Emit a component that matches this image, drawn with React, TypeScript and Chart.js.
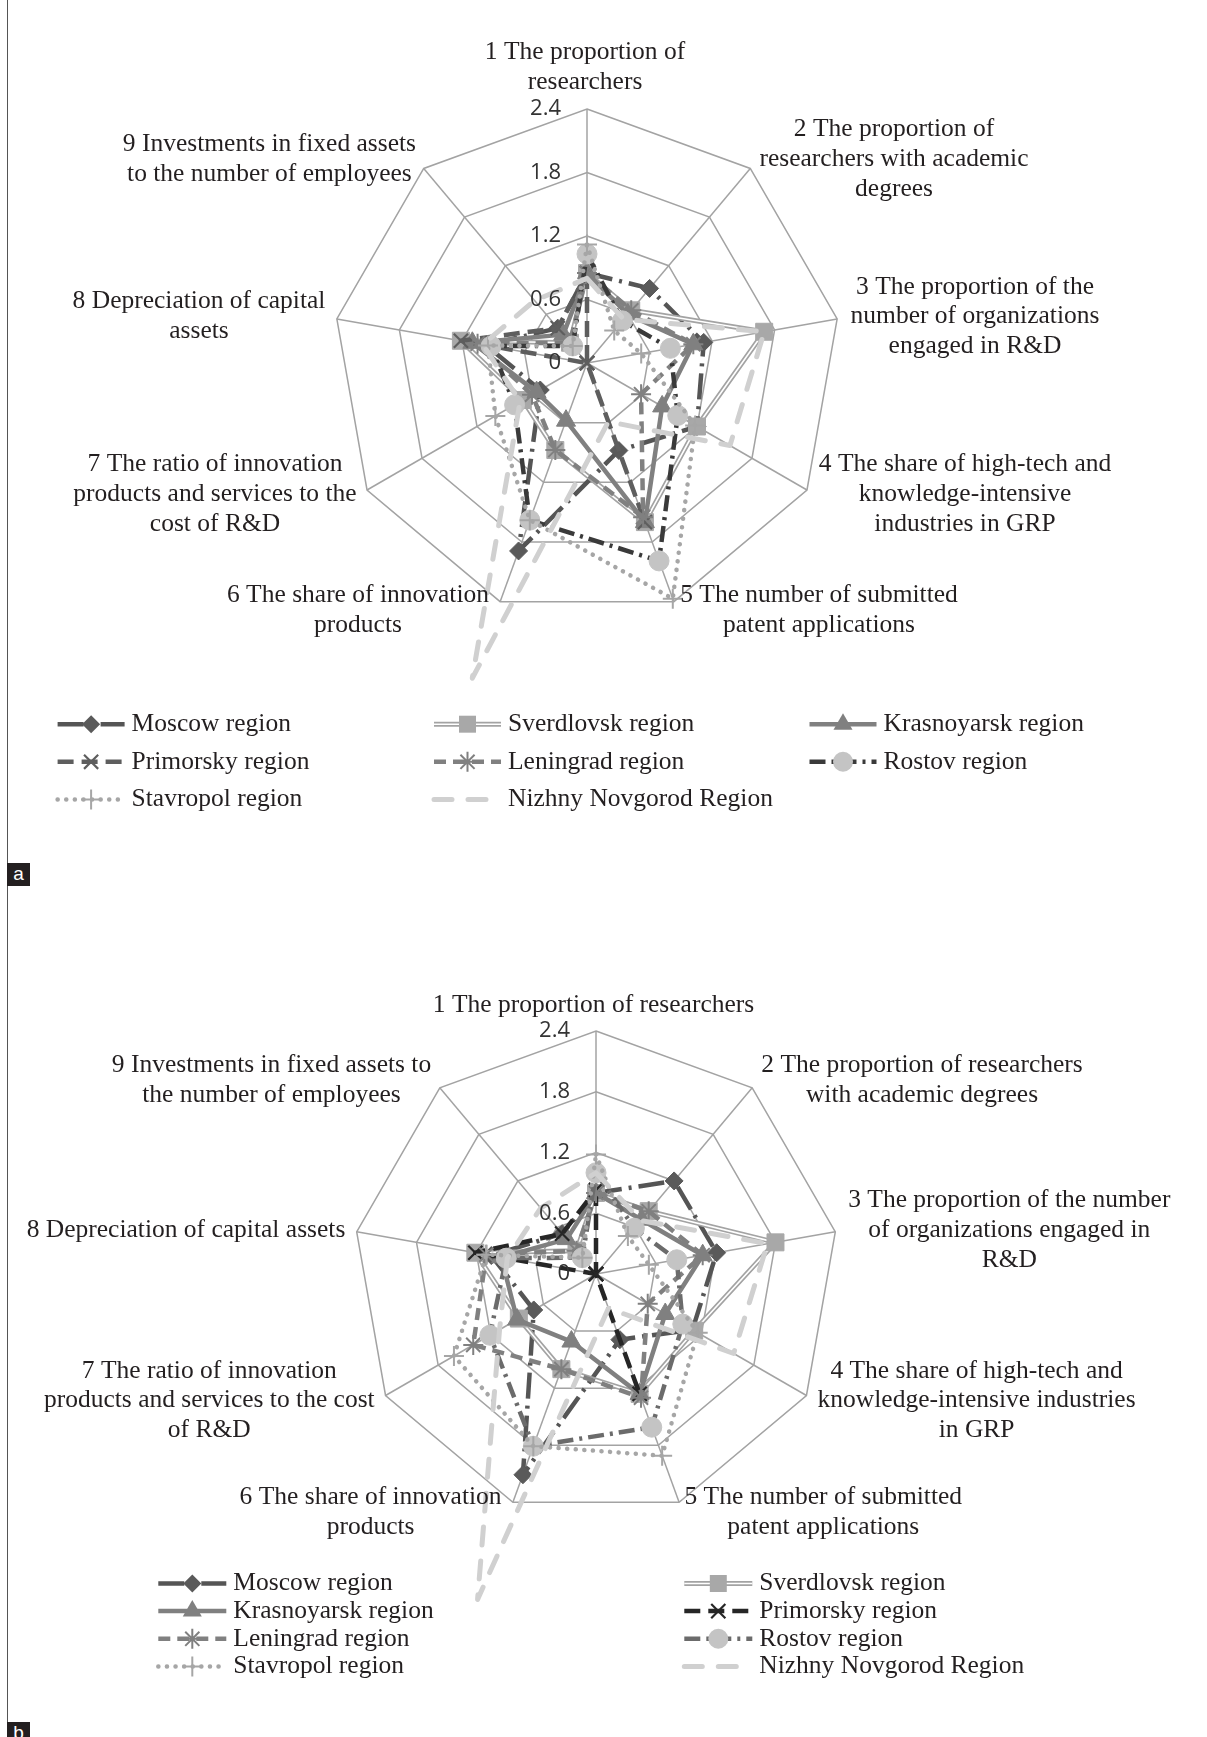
import React, { useEffect, useRef } from 'react';
import { Chart, registerables } from 'chart.js';

Chart.register(...registerables);

// ---------------- data ----------------
const SERIES_NAMES = [
  'Moscow region',
  'Sverdlovsk region',
  'Krasnoyarsk region',
  'Primorsky region',
  'Leningrad region',
  'Rostov region',
  'Stavropol region',
  'Nizhny Novgorod Region',
];

const AXIS_LABELS_A: string[][] = [
  ['1 The proportion of', 'researchers'],
  ['2 The proportion of', 'researchers with academic', 'degrees'],
  ['3 The proportion of the', 'number of organizations', 'engaged in R&D'],
  ['4 The share of high-tech and', 'knowledge-intensive', 'industries in GRP'],
  ['5 The number of submitted', 'patent applications'],
  ['6 The share of innovation', 'products'],
  ['7 The ratio of innovation', 'products and services to the', 'cost of R&D'],
  ['8 Depreciation of capital', 'assets'],
  ['9 Investments in fixed assets', 'to the number of employees'],
];

const AXIS_LABELS_B: string[][] = [
  ['1 The proportion of researchers'],
  ['2 The proportion of researchers', 'with academic degrees'],
  ['3 The proportion of the number', 'of organizations engaged in', 'R&D'],
  ['4 The share of high-tech and', 'knowledge-intensive industries', 'in GRP'],
  ['5 The number of submitted', 'patent applications'],
  ['6 The share of innovation', 'products'],
  ['7 The ratio of innovation', 'products and services to the cost', 'of R&D'],
  ['8 Depreciation of capital assets'],
  ['9 Investments in fixed assets to', 'the number of employees'],
];

const TICK_VALUES = [0, 0.6, 1.2, 1.8, 2.4];
const TICK_LABELS = ['0', '0.6', '1.2', '1.8', '2.4'];

// panel a
const MOSCOW_A = [0.85, 0.92, 1.12, 1.2, 0.88, 1.89, 0.51, 0.97, 0.43];
const SVERDLOVSK_A = [0.85, 0.65, 1.7, 1.2, 1.6, 0.875, 0.7, 1.21, 0.25];
const KRASNOYARSK_A = [0.85, 0.6, 1.02, 0.82, 1.6, 0.58, 0.55, 1.1, 0.35];
const PRIMORSKY_A = [0.85, 0, 0, 0, 1.6, 0, 0, 1.21, 0.43];
const LENINGRAD_A = [0.85, 0.65, 1.02, 0.59, 1.55, 0.875, 0.6, 1.05, 0.25];
const ROSTOV_A = [1.03, 0.52, 0.8, 0.99, 1.99, 1.58, 0.79, 0.92, 0.21];
const STAVROPOL_A = [1.12, 0.4, 0.52, 1.18, 2.37, 1.58, 1.0, 0.95, 0.21];
const NIZHNY_A = [0.8, 0.54, 1.7, 1.56, 0.59, 3.17, 0.73, 1.0, 0.77];

// panel b
const MOSCOW_B = [0.8, 1.2, 1.21, 1.1, 0.69, 2.11, 0.71, 1.05, 0.52];
const SVERDLOVSK_B = [0.8, 0.81, 1.8, 1.12, 1.26, 1.0, 0.88, 1.21, 0.3];
const KRASNOYARSK_B = [0.8, 0.7, 1.07, 0.79, 1.26, 0.71, 0.9, 0.95, 0.45];
const PRIMORSKY_B = [0.83, 0, 0, 0, 1.26, 0, 0, 1.21, 0.52];
const LENINGRAD_B = [0.8, 0.81, 1.07, 0.59, 1.3, 1.0, 1.4, 1.1, 0.3];
const ROSTOV_B = [1.0, 0.59, 0.81, 0.99, 1.61, 1.81, 1.21, 0.9, 0.21];
const STAVROPOL_B = [1.18, 0.49, 0.53, 1.16, 1.91, 1.81, 1.62, 1.1, 0.21];
const NIZHNY_B = [1.0, 0.69, 1.72, 1.57, 0.36, 3.42, 1.1, 0.89, 0.85];

const VALUES_A = [MOSCOW_A, SVERDLOVSK_A, KRASNOYARSK_A, PRIMORSKY_A, LENINGRAD_A, ROSTOV_A, STAVROPOL_A, NIZHNY_A];
const VALUES_B = [MOSCOW_B, SVERDLOVSK_B, KRASNOYARSK_B, PRIMORSKY_B, LENINGRAD_B, ROSTOV_B, STAVROPOL_B, NIZHNY_B];

// ---------------- styles ----------------
type SeriesStyle = {
  color: string;
  width: number;
  dash: number[];
  cap: 'butt' | 'round';
  point: string | null;
  pointColor: string;
  pointRadius: number;
  pointBorderWidth: number;
  double?: boolean;
};

const makeStyles = (primorskyColor: string, rostovColor: string): SeriesStyle[] => [
  { color: '#555555', width: 4.5, dash: [26, 7, 3, 7], cap: 'butt', point: 'rectRot', pointColor: '#5a5a5a', pointRadius: 9, pointBorderWidth: 1 },
  { color: '#a3a3a3', width: 5, dash: [], cap: 'butt', point: 'rect', pointColor: '#a8a8a8', pointRadius: 12, pointBorderWidth: 1, double: true },
  { color: '#808080', width: 4.5, dash: [], cap: 'butt', point: 'triangle', pointColor: '#808080', pointRadius: 11, pointBorderWidth: 1 },
  { color: primorskyColor, width: 4.5, dash: [16, 8], cap: 'butt', point: 'crossRot', pointColor: primorskyColor, pointRadius: 10, pointBorderWidth: 2.2 },
  { color: '#808080', width: 4.5, dash: [12, 7], cap: 'butt', point: 'star', pointColor: '#808080', pointRadius: 10, pointBorderWidth: 2 },
  { color: rostovColor, width: 4.5, dash: [16, 6, 3, 6], cap: 'butt', point: 'circle', pointColor: '#c4c4c4', pointRadius: 10, pointBorderWidth: 1 },
  { color: '#a6a6a6', width: 4.5, dash: [0.1, 8.5], cap: 'round', point: 'cross', pointColor: '#a6a6a6', pointRadius: 10, pointBorderWidth: 2 },
  { color: '#d0d0d0', width: 5, dash: [18, 16], cap: 'round', point: null, pointColor: '#d0d0d0', pointRadius: 0, pointBorderWidth: 0 },
];

const STYLES_A = makeStyles('#5e5e5e', '#3a3a3a');
const STYLES_B = makeStyles('#262626', '#6b6b6b');

type Layout = {
  padding: { left: number; right: number; top: number; bottom: number };
  labelOffsets: number[][];
  lineH: number;
  legendSlots: { s: number; x: number; y: number }[];
  sampleLen: number;
  textGap: number;
};

const LAYOUT_A: Layout = {
  padding: { left: 333, right: 366, top: 109, bottom: 251 },
  labelOffsets: [
    [-2, -311], [307, -233.4], [388, -76.2], [378, 101], [232, 232.7],
    [-229, 232.7], [-372, 101], [-388, -61.8], [-317.6, -219],
  ],
  lineH: 29.9,
  legendSlots: [
    { s: 0, x: 57.6, y: 724.2 }, { s: 1, x: 434, y: 724.2 }, { s: 2, x: 809.5, y: 724.2 },
    { s: 3, x: 57.6, y: 761.8 }, { s: 4, x: 434, y: 761.8 }, { s: 5, x: 809.5, y: 761.8 },
    { s: 6, x: 57.6, y: 799.5 }, { s: 7, x: 434, y: 799.5 },
  ],
  sampleLen: 67,
  textGap: 74,
};

const LAYOUT_B: Layout = {
  padding: { left: 353, right: 368, top: 163, bottom: 220 },
  labelOffsets: [
    [-2.5, -268.6], [326, -208.8], [413.3, -73.7], [380.6, 96.8], [227.3, 223],
    [-225.4, 223], [-386.7, 96.8], [-410, -43.8], [-324.5, -208.8],
  ],
  lineH: 29.9,
  legendSlots: [
    { s: 0, x: 158.3, y: 715.5 }, { s: 2, x: 158.3, y: 743.1 }, { s: 4, x: 158.3, y: 770.8 }, { s: 6, x: 158.3, y: 798.5 },
    { s: 1, x: 684.3, y: 715.5 }, { s: 3, x: 684.3, y: 743.1 }, { s: 5, x: 684.3, y: 770.8 }, { s: 7, x: 684.3, y: 798.5 },
  ],
  sampleLen: 68,
  textGap: 75,
};

const SERIF = '"Liberation Serif", "Times New Roman", serif';
const LABEL_FONT = `25.5px ${SERIF}`;
const TICK_FONT = '22px "Open Sans", sans-serif';
const TEXT_COLOR = '#231f20';
const GRID_COLOR = '#a3a3a3';

// ---------------- helpers ----------------
function buildDatasets(values: number[][], styles: SeriesStyle[]) {
  const out: any[] = [];
  values.forEach((data, i) => {
    const s = styles[i];
    const common = {
      data,
      fill: false,
      tension: 0,
      clip: false,
      borderCapStyle: s.cap,
      borderJoinStyle: 'round',
      pointHoverRadius: 0,
    };
    if (s.double) {
      out.push({
        ...common,
        label: SERIES_NAMES[i],
        borderColor: s.color,
        borderWidth: s.width,
        borderDash: s.dash,
        pointRadius: 0,
        order: 100 - 2 * i,
      });
      out.push({
        ...common,
        label: SERIES_NAMES[i] + ' (inner)',
        borderColor: '#ffffff',
        borderWidth: 1.6,
        pointStyle: s.point,
        pointRadius: s.pointRadius,
        pointBackgroundColor: s.pointColor,
        pointBorderColor: s.pointColor,
        pointBorderWidth: s.pointBorderWidth,
        order: 99 - 2 * i,
      });
    } else {
      out.push({
        ...common,
        label: SERIES_NAMES[i],
        borderColor: s.color,
        borderWidth: s.width,
        borderDash: s.dash,
        pointStyle: s.point || 'circle',
        pointRadius: s.point ? s.pointRadius : 0,
        pointBackgroundColor: s.pointColor,
        pointBorderColor: s.pointColor,
        pointBorderWidth: s.pointBorderWidth,
        order: 100 - 2 * i,
      });
    }
  });
  return out;
}

function drawMarker(ctx: CanvasRenderingContext2D, s: SeriesStyle, x: number, y: number) {
  if (!s.point) return;
  const r = s.pointRadius;
  ctx.save();
  ctx.setLineDash([]);
  ctx.fillStyle = s.pointColor;
  ctx.strokeStyle = s.pointColor;
  ctx.lineWidth = s.pointBorderWidth;
  ctx.beginPath();
  const d = r * Math.SQRT1_2;
  switch (s.point) {
    case 'rectRot':
      ctx.moveTo(x, y - r); ctx.lineTo(x + r, y); ctx.lineTo(x, y + r); ctx.lineTo(x - r, y); ctx.closePath();
      ctx.fill(); break;
    case 'rect':
      ctx.rect(x - d, y - d, 2 * d, 2 * d); ctx.fill(); break;
    case 'triangle':
      ctx.moveTo(x, y - r);
      ctx.lineTo(x + r * Math.sin((2 * Math.PI) / 3), y - r * Math.cos((2 * Math.PI) / 3));
      ctx.lineTo(x + r * Math.sin((4 * Math.PI) / 3), y - r * Math.cos((4 * Math.PI) / 3));
      ctx.closePath(); ctx.fill(); break;
    case 'circle':
      ctx.arc(x, y, r, 0, Math.PI * 2); ctx.fill(); break;
    case 'crossRot':
      ctx.moveTo(x - d, y - d); ctx.lineTo(x + d, y + d); ctx.moveTo(x + d, y - d); ctx.lineTo(x - d, y + d);
      ctx.stroke(); break;
    case 'cross':
      ctx.moveTo(x, y - r); ctx.lineTo(x, y + r); ctx.moveTo(x - r, y); ctx.lineTo(x + r, y);
      ctx.stroke(); break;
    case 'star':
      ctx.moveTo(x, y - r); ctx.lineTo(x, y + r); ctx.moveTo(x - r, y); ctx.lineTo(x + r, y);
      ctx.moveTo(x - d, y - d); ctx.lineTo(x + d, y + d); ctx.moveTo(x + d, y - d); ctx.lineTo(x - d, y + d);
      ctx.stroke(); break;
    default:
      break;
  }
  ctx.restore();
}

function makeOverlay(name: string, labels: string[][], layout: Layout, styles: SeriesStyle[]) {
  return {
    id: 'overlay_' + name,
    afterDatasetsDraw(chart: any) {
      const ctx: CanvasRenderingContext2D = chart.ctx;
      const scale = chart.scales.r;
      const cx = scale.xCenter;
      const cy = scale.yCenter;
      ctx.save();
      ctx.font = TICK_FONT;
      ctx.fillStyle = '#333333';
      ctx.textAlign = 'right';
      ctx.textBaseline = 'middle';
      TICK_VALUES.forEach((v, i) => {
        const y = cy - scale.getDistanceFromCenterForValue(v);
        ctx.fillText(TICK_LABELS[i], cx - 26, y);
      });
      ctx.restore();
    },
    afterDraw(chart: any) {
      const ctx: CanvasRenderingContext2D = chart.ctx;
      const scale = chart.scales.r;
      const cx = scale.xCenter;
      const cy = scale.yCenter;
      ctx.save();
      ctx.font = LABEL_FONT;
      ctx.fillStyle = TEXT_COLOR;
      ctx.textAlign = 'center';
      ctx.textBaseline = 'middle';
      labels.forEach((lines, i) => {
        const [dx, dy] = layout.labelOffsets[i];
        lines.forEach((t, j) => ctx.fillText(t, cx + dx, cy + dy + j * layout.lineH));
      });

      // legend
      layout.legendSlots.forEach(({ s, x, y }) => {
        const st = styles[s];
        ctx.save();
        ctx.lineCap = st.cap;
        ctx.setLineDash(st.dash);
        ctx.strokeStyle = st.color;
        ctx.lineWidth = st.width;
        ctx.beginPath();
        ctx.moveTo(x, y);
        ctx.lineTo(x + layout.sampleLen, y);
        ctx.stroke();
        if (st.double) {
          ctx.setLineDash([]);
          ctx.strokeStyle = '#ffffff';
          ctx.lineWidth = 1.6;
          ctx.beginPath();
          ctx.moveTo(x, y);
          ctx.lineTo(x + layout.sampleLen, y);
          ctx.stroke();
        }
        ctx.restore();
        drawMarker(ctx, st, x + layout.sampleLen / 2, y);
        ctx.font = LABEL_FONT;
        ctx.fillStyle = TEXT_COLOR;
        ctx.textAlign = 'left';
        ctx.textBaseline = 'middle';
        ctx.fillText(SERIES_NAMES[s], x + layout.textGap, y);
      });
      ctx.restore();
    },
  };
}

function createRadar(canvas: HTMLCanvasElement, name: string, labels: string[][], values: number[][], styles: SeriesStyle[], layout: Layout) {
  return new Chart(canvas, {
    type: 'radar',
    data: {
      labels: labels.map((l) => l.join(' ')),
      datasets: buildDatasets(values, styles),
    },
    options: {
      responsive: false,
      maintainAspectRatio: false,
      animation: false,
      devicePixelRatio: 1,
      events: [],
      layout: { padding: layout.padding },
      plugins: {
        legend: { display: false },
        tooltip: { enabled: false },
        title: { display: false },
      },
      scales: {
        r: {
          min: 0,
          max: 2.4,
          startAngle: 0,
          ticks: { display: false, stepSize: 0.6 },
          pointLabels: { display: false },
          grid: { color: GRID_COLOR, lineWidth: 1.5 },
          angleLines: { display: true, color: GRID_COLOR, lineWidth: 1.5 },
        },
      },
    } as any,
    plugins: [makeOverlay(name, labels, layout, styles)],
  });
}

export default function App() {
  const refA = useRef<HTMLCanvasElement | null>(null);
  const refB = useRef<HTMLCanvasElement | null>(null);

  useEffect(() => {
    const a = createRadar(refA.current as HTMLCanvasElement, 'a', AXIS_LABELS_A, VALUES_A, STYLES_A, LAYOUT_A);
    const b = createRadar(refB.current as HTMLCanvasElement, 'b', AXIS_LABELS_B, VALUES_B, STYLES_B, LAYOUT_B);
    return () => {
      a.destroy();
      b.destroy();
    };
  }, []);

  const tag: React.CSSProperties = {
    position: 'absolute',
    left: 7,
    width: 23,
    height: 23,
    background: '#231f20',
    color: '#ffffff',
    font: '19px "Liberation Sans", Arial, sans-serif',
    lineHeight: '21px',
    textAlign: 'center',
  };

  return (
    <div style={{ position: 'absolute', left: 0, top: 0, width: 1207, height: 1737, overflow: 'hidden', background: '#ffffff' }}>
      <canvas ref={refA} width={1207} height={868} style={{ position: 'absolute', left: 0, top: 0 }} />
      <canvas ref={refB} width={1207} height={869} style={{ position: 'absolute', left: 0, top: 868 }} />
      <div style={{ position: 'absolute', left: 7, top: 0, width: 1, height: 1737, background: '#555555' }} />
      <div style={{ ...tag, top: 863 }}>a</div>
      <div style={{ ...tag, top: 1722 }}>b</div>
    </div>
  );
}
